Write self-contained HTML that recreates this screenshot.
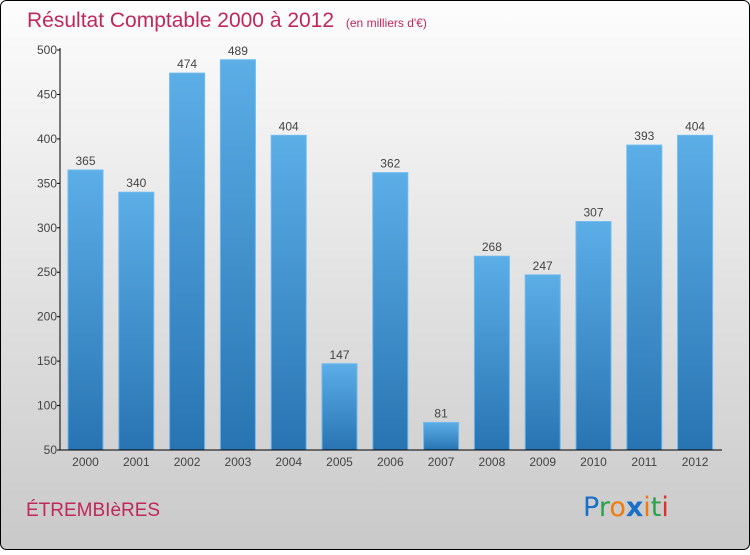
<!DOCTYPE html>
<html><head><meta charset="utf-8"><style>
body{margin:0;width:750px;height:550px;overflow:hidden;font-family:"Liberation Sans",sans-serif}
</style></head><body>
<svg width="750" height="550" xmlns="http://www.w3.org/2000/svg">
<defs>
<linearGradient id="bg" x1="0" y1="0" x2="0" y2="1"><stop offset="0" stop-color="#fdfdfd"/><stop offset="1" stop-color="#c9c9c9"/></linearGradient>
<linearGradient id="bar" x1="0" y1="0" x2="0" y2="1"><stop offset="0" stop-color="#5caee7"/><stop offset="1" stop-color="#2874b2"/></linearGradient>
</defs>
<rect x="0.5" y="0.5" width="749" height="549" rx="6" fill="url(#bg)" stroke="#000"/>
<text x="27" y="27" font-size="21" fill="#c0285a">Résultat Comptable 2000 à 2012 <tspan font-size="12" dx="6">(en milliers d'€)</tspan></text>
<g id="yaxis"></g><g id="bars"></g><g id="xaxis"></g>
<text x="26" y="516" font-size="19" fill="#c0285a">ÉTREMBIèRES</text>
<text x="583" y="516" font-size="27" font-family="DejaVu Sans"><tspan fill="#1a6fc9">P</tspan><tspan fill="#2aa14a">r</tspan><tspan fill="#f07a10">o</tspan><tspan fill="#1a6fc9" font-weight="bold">x</tspan><tspan fill="#f07a10">i</tspan><tspan fill="#2aa14a">t</tspan><tspan fill="#e0302a">i</tspan></text>
</svg>
<script>
const categories=["2000","2001","2002","2003","2004","2005","2006","2007","2008","2009","2010","2011","2012"];
const values=[365,340,474,489,404,147,362,81,268,247,307,393,404];
const yTicks=[50,100,150,200,250,300,350,400,450,500];
const NS="http://www.w3.org/2000/svg";
const y=v=>450-(v-50)*400/450;
const x=i=>85.5+i*50.8;
function mk(t,a,p,txt){const e=document.createElementNS(NS,t);for(const k in a)e.setAttribute(k,a[k]);if(txt!==undefined)e.textContent=txt;p.appendChild(e);return e;}
const ya=document.getElementById('yaxis'),bs=document.getElementById('bars'),xa=document.getElementById('xaxis');
let l=mk('line',{x1:60,y1:48,x2:60,y2:450,stroke:'#000'},ya);


yTicks.forEach(v=>{
 let t=mk('line',{x1:57,y1:y(v),x2:60,y2:y(v),stroke:'#000'},ya);
 
 
 let s=mk('text',{x:57,y:y(v)+4,'font-size':12,fill:'#444','text-anchor':'end'},ya,v);
 
 
});
values.forEach((v,i)=>{
 let r=mk('rect',{x:x(i)-17.5,y:y(v),width:35,height:450-y(v),fill:'url(#bar)',stroke:'#6cbaf0','stroke-width':1},bs);
 
 
 let s=mk('text',{x:x(i),y:y(v)-5,'font-size':12,fill:'#444','text-anchor':'middle'},bs,v);
 
 
 let c=mk('text',{x:x(i),y:466,'font-size':12,fill:'#444','text-anchor':'middle'},xa,categories[i]);
 
 
});
let xl=mk('line',{x1:60,y1:450,x2:722,y2:450,stroke:'#000'},xa);


</script>
</body></html>
